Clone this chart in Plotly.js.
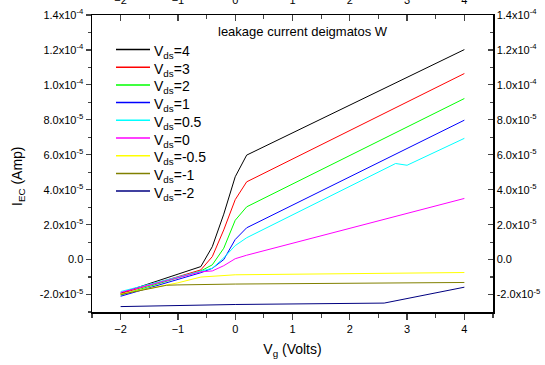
<!DOCTYPE html>
<html>
<head>
<meta charset="utf-8">
<script src="https://cdn.plot.ly/plotly-3.0.1.min.js"></script>
<style>html,body{margin:0;padding:0;background:#fff;}#chart{width:545px;height:365px;}</style>
</head>
<body>
<div id="chart"></div>
<script>
// Gate voltage knots and leakage currents (A)
const vgSteep = [-2, -0.6, -0.4, -0.2, 0, 0.2, 4];
const vds4  = [-1.92e-5, -4.0e-6, 7.4e-6, 2.6e-5, 4.74e-5, 5.98e-5, 1.202e-4];
const vds3  = [-1.95e-5, -5.9e-6, 1.7e-6, 1.7e-5, 3.43e-5, 4.45e-5, 1.065e-4];
const vds2  = [-2.03e-5, -6.5e-6, -3.0e-6, 6.5e-6, 2.25e-5, 3.02e-5, 9.22e-5];
const vds1  = [-2.1e-5, -7.5e-6, -5.0e-6, 0.0, 1.15e-5, 1.82e-5, 7.98e-5];

const vgHalf = [-2, -0.6, -0.4, -0.2, 0, 0.2, 2.8, 3.0, 4];
const vds05 = [-1.83e-5, -6.5e-6, -5.0e-6, 1.0e-6, 8.0e-6, 1.25e-5, 5.5e-5, 5.4e-5, 6.94e-5];

const vgZero = [-2, -0.6, -0.4, -0.2, 0, 0.2, 4];
const vds0  = [-1.88e-5, -7.0e-6, -6.5e-6, -3.5e-6, 0.5e-6, 2.5e-6, 3.5e-5];

const vgNeg05 = [-2, -1.0, -0.6, -0.4, 0, 4];
const vdsM05  = [-1.97e-5, -1.33e-5, -1.0e-5, -9.5e-6, -8.7e-6, -7.4e-6];

const vgNeg1 = [-2, -1.2, -1.0, 0, 4];
const vdsM1  = [-2.0e-5, -1.47e-5, -1.45e-5, -1.4e-5, -1.31e-5];

const vgNeg2 = [-2, 0, 2.6, 4];
const vdsM2  = [-2.69e-5, -2.57e-5, -2.49e-5, -1.58e-5];

const seriesNames = ['V<sub>ds</sub>=4','V<sub>ds</sub>=3','V<sub>ds</sub>=2','V<sub>ds</sub>=1','V<sub>ds</sub>=0.5','V<sub>ds</sub>=0','V<sub>ds</sub>=-0.5','V<sub>ds</sub>=-1','V<sub>ds</sub>=-2'];
const seriesX = [vgSteep, vgSteep, vgSteep, vgSteep, vgHalf, vgZero, vgNeg05, vgNeg1, vgNeg2];
const seriesY = [vds4, vds3, vds2, vds1, vds05, vds0, vdsM05, vdsM1, vdsM2];
const colors = ['#000000','#ff0000','#00ff00','#0000ff','#00ffff','#ff00ff','#ffff00','#808000','#000080'];

const yTickVals = [-2e-5, 0, 2e-5, 4e-5, 6e-5, 8e-5, 1e-4, 1.2e-4, 1.4e-4];
const yTickText = ['-2.0x10<sup>-5</sup>','0.0','2.0x10<sup>-5</sup>','4.0x10<sup>-5</sup>','6.0x10<sup>-5</sup>','8.0x10<sup>-5</sup>','1.0x10<sup>-4</sup>','1.2x10<sup>-4</sup>','1.4x10<sup>-4</sup>'];
const xTickVals = [-2, -1, 0, 1, 2, 3, 4];

const traces = seriesNames.map((n, i) => ({
  x: seriesX[i], y: seriesY[i], name: n, type: 'scatter', mode: 'lines',
  line: {color: colors[i], width: 1}, showlegend: false
}));
// carrier so the mirrored top/right axes get drawn (fully transparent)
traces.push({x: vgSteep, y: vds4, xaxis: 'x2', yaxis: 'y2', mode: 'lines', opacity: 0,
             showlegend: false, hoverinfo: 'skip', line: {width: 0}});

const font = {family: 'Liberation Sans, Arial, sans-serif', color: '#000'};
const xRange = [-2.5, 4.5], yRange = [-3e-5, 1.4e-4];

// plot area geometry in pixels (for legend placement)
const L = 92, T = 15, W = 401, H = 297;
const px2x = p => (p - L) / W;
const py2y = p => (T + H - p) / H;

const shapes = [], annotations = [];
seriesNames.forEach((n, i) => {
  const yc = 49.5 + 17.7 * i;
  shapes.push({type: 'line', xref: 'paper', yref: 'paper', x0: px2x(116), x1: px2x(150),
               y0: py2y(yc), y1: py2y(yc), line: {color: colors[i], width: 1.5}});
  annotations.push({text: n, xref: 'paper', yref: 'paper', x: px2x(152), y: py2y(yc + 2.5),
                    xanchor: 'left', yanchor: 'middle', showarrow: false,
                    font: Object.assign({size: 14}, font)});
});
annotations.push({text: 'leakage current deigmatos W', xref: 'paper', yref: 'paper', x: px2x(303), y: py2y(32),
                  xanchor: 'center', yanchor: 'middle', showarrow: false, font: Object.assign({size: 13}, font)});
annotations.push({text: 'I<sub>EC</sub> (Amp)', xref: 'paper', yref: 'paper', x: px2x(18), y: py2y(176),
                  xanchor: 'center', yanchor: 'middle', textangle: -90, showarrow: false,
                  font: Object.assign({size: 14}, font)});

const layout = {
  width: 545, height: 365,
  margin: {l: L, r: 545 - L - W, t: T, b: 365 - T - H},
  paper_bgcolor: '#fff', plot_bgcolor: '#fff',
  font: Object.assign({size: 11}, font),
  showlegend: false,
  xaxis: {range: xRange, tickvals: xTickVals, ticks: 'outside', ticklen: 6, tickwidth: 1.2,
          showgrid: false, zeroline: false, showline: true, linewidth: 1.5, linecolor: '#000',
          tickfont: Object.assign({size: 11}, font),
          minor: {dtick: 0.5, tick0: 0, ticks: 'outside', ticklen: 4, tickwidth: 1.2, showgrid: false},
          title: {text: 'V<sub>g</sub> (Volts)', font: Object.assign({size: 14}, font), standoff: 10}},
  yaxis: {range: yRange, tickvals: yTickVals, ticktext: yTickText, ticks: 'outside', ticklen: 5, tickwidth: 1.2,
          showgrid: false, zeroline: false, showline: true, linewidth: 1.5, linecolor: '#000',
          tickfont: Object.assign({size: 11}, font),
          minor: {dtick: 1e-5, tick0: 0, ticks: 'outside', ticklen: 3, tickwidth: 1.2, showgrid: false}},
  xaxis2: {range: xRange, overlaying: 'x', side: 'top', anchor: 'y2', tickvals: xTickVals, ticks: 'inside',
           ticklen: 6, tickwidth: 1.2, showgrid: false, zeroline: false, showline: true, linewidth: 1.5,
           linecolor: '#000', tickfont: Object.assign({size: 11}, font), ticklabelstandoff: 5,
           minor: {dtick: 0.5, tick0: 0, ticks: 'inside', ticklen: 4, tickwidth: 1.2, showgrid: false}},
  yaxis2: {range: yRange, overlaying: 'y', side: 'right', anchor: 'x2', tickvals: yTickVals, ticktext: yTickText,
           ticks: 'inside', ticklen: 5, tickwidth: 1.2, showgrid: false, zeroline: false, showline: true,
           linewidth: 1.5, linecolor: '#000', tickfont: Object.assign({size: 11}, font),
           minor: {dtick: 1e-5, tick0: 0, ticks: 'inside', ticklen: 3, tickwidth: 1.2, showgrid: false}},
  shapes: shapes,
  annotations: annotations
};

Plotly.newPlot('chart', traces, layout, {displayModeBar: false, staticPlot: true});
</script>
</body>
</html>
